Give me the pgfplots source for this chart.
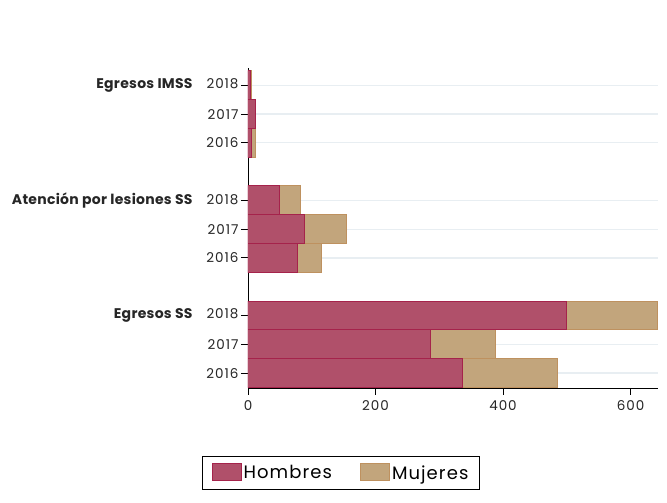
\documentclass[border=0pt]{standalone}
\usepackage{fontspec}
\setmainfont{Poppins}
\newfontfamily\tickfont{Poppins}[LetterSpace=7]
\newfontfamily\labfont{Poppins}[LetterSpace=2]
\newfontfamily\legfont{Poppins}[LetterSpace=6]
\usepackage{pgfplots}
\pgfplotsset{compat=1.18}
\definecolor{hom}{RGB}{176,80,106}
\definecolor{homd}{RGB}{165,35,75}
\definecolor{muj}{RGB}{194,165,124}
\definecolor{mujd}{RGB}{190,145,95}
\definecolor{gridc}{RGB}{232,238,242}
\newcommand{\grp}[1]{{\labfont\bfseries\fontsize{14}{16}\selectfont #1}\hspace{14pt}}
\begin{document}
\begin{tikzpicture}
\path[use as bounding box] (0pt,0pt) rectangle (667pt,503pt);
\begin{axis}[
  at={(248pt,115pt)}, anchor=south west,
  scale only axis, width=410pt, height=320pt,
  xbar stacked, bar width=1,
  xmin=0, xmax=643, ymin=-0.52, ymax=10.6,
  xtick={0,200,400,600},
  ytick={0,1,2,4,5,6,8,9,10},
  yticklabels={2016,2017,{\grp{Egresos SS}2018},2016,2017,{\grp{Atención por lesiones SS}2018},2016,2017,{\grp{Egresos IMSS}2018}},
  axis x line*=bottom, axis y line*=left,
  axis line style={black, line width=0.9pt},
  tick align=outside, major tick length=7pt,
  tick style={black, line width=0.9pt},
  ymajorgrids, grid style={gridc, line width=1.2pt},
  /pgf/number format/assume math mode=true,
  tick label style={font=\tickfont\fontsize{13.5}{15}\selectfont, text=black!85},
  xticklabel style={yshift=-2pt},
  yticklabel style={xshift=1pt},
  legend columns=2,
  legend style={at={(0.2268,-0.2656)}, anchor=center, draw=black, line width=0.8pt,
    font=\legfont\fontsize{18}{20}\selectfont, inner xsep=9pt, inner ysep=7pt,
    /tikz/every even column/.append style={column sep=26pt}},
  legend image code/.code={\draw[#1, line width=1pt] (0pt,-8pt) rectangle (29pt,9pt);},
]
\addplot[fill=hom, draw=homd, line width=1pt] coordinates {(4.5,10) (11,9) (6,8) (50,6) (89,5) (78,4) (500,2) (286,1) (337,0)};
\addplot[fill=muj, draw=mujd, line width=1pt] coordinates {(0.5,10) (1,9) (6,8) (33,6) (66,5) (38,4) (142,2) (102,1) (148,0)};
\legend{Hombres, Mujeres}
\end{axis}
\end{tikzpicture}
\end{document}
